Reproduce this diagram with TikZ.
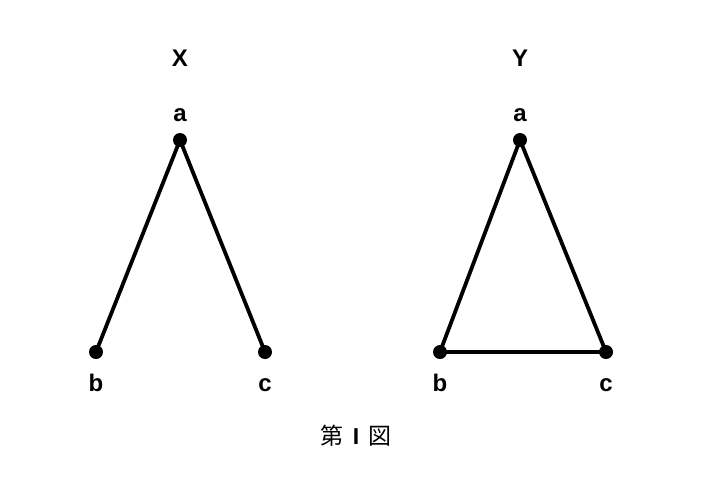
\documentclass[tikz,border=0pt]{standalone}
\usepackage{fontspec}
\setmainfont{Liberation Sans}
\newfontfamily\cjk{Noto Sans CJK JP}
\begin{document}
\begin{tikzpicture}[x=1pt,y=-1pt,
  dotnode/.style={circle,fill=black,inner sep=0pt,minimum size=14pt},
  lbl/.style={font=\fontsize{24}{24}\selectfont\bfseries,inner sep=0pt},
  edge/.style={line width=3.8pt,line cap=round}]
\useasboundingbox (0,0) rectangle (705,483);
\fill[white] (0,0) rectangle (705,483);
% X
\node[lbl] (X) at (180,58) {X};
\node[dotnode] (xa) at (180,140) {};
\node[dotnode] (xb) at (96,352) {};
\node[dotnode] (xc) at (265,352) {};
\node[lbl] (xal) at (180,115) {a};
\node[lbl] (xbl) at (96,383) {b};
\node[lbl] (xcl) at (265,385) {c};
\draw[edge] (xa.center) -- (xb.center);
\draw[edge] (xa.center) -- (xc.center);
% Y
\node[lbl] (Y) at (520,58) {Y};
\node[dotnode] (ya) at (520,140) {};
\node[dotnode] (yb) at (440,352) {};
\node[dotnode] (yc) at (606,352) {};
\node[lbl] (yal) at (520,115) {a};
\node[lbl] (ybl) at (440,383) {b};
\node[lbl] (ycl) at (606,385) {c};
\draw[edge] (ya.center) -- (yb.center);
\draw[edge] (ya.center) -- (yc.center);
\draw[edge] (yb.center) -- (yc.center);
% caption
\node[inner sep=0pt,font=\cjk\fontsize{23}{23}\selectfont] (cap) at (356,436) {第\hspace{9pt}{\rmfamily\bfseries I}\hspace{9pt}図};
\end{tikzpicture}
\end{document}
